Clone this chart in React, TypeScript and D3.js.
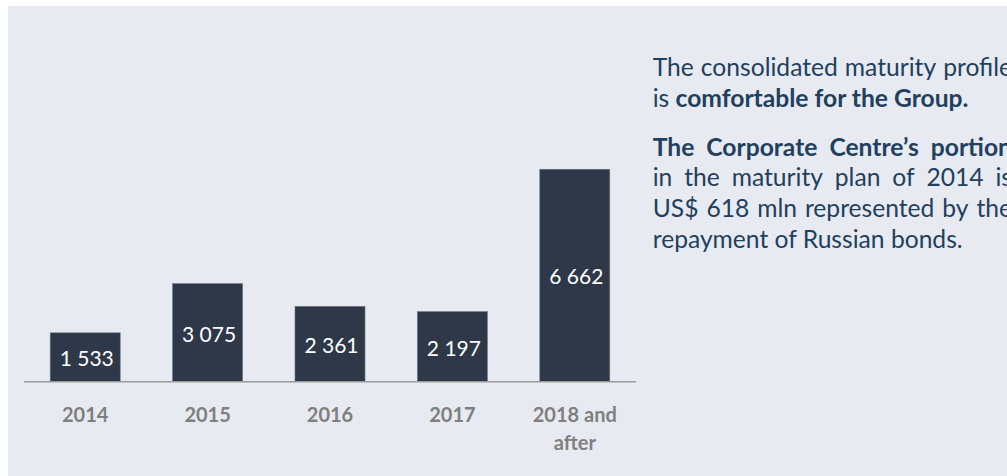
import React from "react";
import * as d3 from "d3";

// ---- data ----
const categories = ["2014", "2015", "2016", "2017", "2018 and\nafter"];
const values = [1533, 3075, 2361, 2197, 6662];
const yDomainMax = 7000;

type Seg = { text: string; bold: boolean };
const noteParagraph1: Seg[][] = [
  [{ text: "The consolidated maturity profile", bold: false }],
  [
    { text: "is ", bold: false },
    { text: "comfortable for the Group.", bold: true },
  ],
];
const noteParagraph2: Seg[][] = [
  [{ text: "The Corporate Centre’s portion", bold: true }],
  [{ text: "in the maturity plan of 2014 is", bold: false }],
  [{ text: "US$ 618 mln represented by the", bold: false }],
  [{ text: "repayment of Russian bonds.", bold: false }],
];

// ---- layout ----
const W = 1007;
const H = 476;
const FONT = "Lato, 'Open Sans', sans-serif";
const BAR_COLOR = "#2e3849";
const TEXT_COLOR = "#213f5f";
const BG = "#e7eaf0";

let ctx: CanvasRenderingContext2D | null = null;
function measure(text: string, bold: boolean, fs: number) {
  if (!ctx) ctx = document.createElement("canvas").getContext("2d");
  if (!ctx) return text.length * fs * 0.5;
  ctx.font = `${bold ? 700 : 400} ${fs}px Lato`;
  return ctx.measureText(text).width;
}

const fmt = d3.formatLocale({
  decimal: ".",
  thousands: " ",
  grouping: [3],
  currency: ["", ""],
}).format(",");

export default function App() {
  const x = d3
    .scaleBand<string>()
    .domain(categories)
    .range([24, 636])
    .paddingInner(0.428)
    .paddingOuter(0.214);
  const y = d3.scaleLinear().domain([0, yDomainMax]).range([381.7, 158.5]);
  const baseY = y(0);

  // note text layout
  const noteX = 652.7;
  const noteRight = 1012;
  const refLine = "repayment of Russian bonds.";
  const noteFs = Math.min(26, (310.6 / measure(refLine, false, 100)) * 100);
  const lineH = 30.6;
  const paraGap = 18.5;
  const firstBaseline = 76;

  const lines: { segs: Seg[]; y: number; justify: boolean }[] = [];
  let cy = firstBaseline;
  [noteParagraph1, noteParagraph2].forEach((para, pi) => {
    if (pi > 0) cy += paraGap;
    para.forEach((segs, li) => {
      lines.push({ segs, y: cy, justify: li < para.length - 1 });
      cy += lineH;
    });
  });

  const renderLine = (ln: { segs: Seg[]; y: number; justify: boolean }, i: number) => {
    const words: { w: string; bold: boolean }[] = [];
    ln.segs.forEach((s) =>
      s.text
        .split(" ")
        .filter((t) => t.length)
        .forEach((t) => words.push({ w: t, bold: s.bold }))
    );
    const widths = words.map((wd) => measure(wd.w, wd.bold, noteFs));
    const total = widths.reduce((a, b) => a + b, 0);
    const natural = total + (words.length - 1) * measure(" ", false, noteFs);
    const avail = noteRight - noteX;
    if (ln.justify && words.length > 1 && natural < avail) {
      const gap = (avail - total) / (words.length - 1);
      let cx = noteX;
      return (
        <g key={i}>
          {words.map((wd, k) => {
            const el = (
              <text
                key={k}
                x={cx}
                y={ln.y}
                fontWeight={wd.bold ? 700 : 400}
                fontSize={noteFs}
                fill={TEXT_COLOR}
                fontFamily={FONT}
              >
                {wd.w}
              </text>
            );
            cx += widths[k] + gap;
            return el;
          })}
        </g>
      );
    }
    return (
      <text key={i} x={noteX} y={ln.y} fontSize={noteFs} fill={TEXT_COLOR} fontFamily={FONT} style={{ whiteSpace: "pre" }}>
        {ln.segs.map((s, k) => (
          <tspan key={k} fontWeight={s.bold ? 700 : 400}>
            {s.text}
          </tspan>
        ))}
      </text>
    );
  };

  const bw = x.bandwidth();

  return (
    <svg
      width={W}
      height={H}
      viewBox={`0 0 ${W} ${H}`}
      style={{ position: "absolute", left: 0, top: 0, display: "block" }}
    >
      <rect x={0} y={0} width={W} height={H} fill="#ffffff" />
      <rect x={8} y={6} width={W - 8} height={H - 6} fill={BG} />

      {/* bars */}
      {categories.map((c, i) => {
        const top = y(values[i]);
        const x0 = x(c) as number;
        return (
          <g key={c}>
            <rect
              x={x0}
              y={top}
              width={bw}
              height={baseY - top}
              fill={BAR_COLOR}
              stroke="#6b7585"
              strokeWidth={0.6}
            />
            <text
              x={x0 + bw / 2 + 1.5}
              y={(top + baseY) / 2 + 9}
              textAnchor="middle"
              fill="#ffffff"
              fontFamily={FONT}
              fontSize={21}
            >
              {fmt(values[i])}
            </text>
          </g>
        );
      })}

      {/* axis line */}
      <line x1={24} x2={636} y1={baseY} y2={baseY} stroke="#9a9a9a" strokeWidth={1.6} />

      {/* category labels */}
      {categories.map((c) => {
        const parts = c.split("\n");
        const cx = (x(c) as number) + bw / 2;
        return (
          <text
            key={"l" + c}
            x={cx}
            y={baseY + 40}
            textAnchor="middle"
            fill="#7f7f7f"
            fontFamily={FONT}
            fontWeight={700}
            fontSize={20}
          >
            {parts.map((p, k) => (
              <tspan key={k} x={cx} dy={k === 0 ? 0 : 28.5}>
                {p}
              </tspan>
            ))}
          </text>
        );
      })}

      {/* note text */}
      {lines.map(renderLine)}
    </svg>
  );
}
